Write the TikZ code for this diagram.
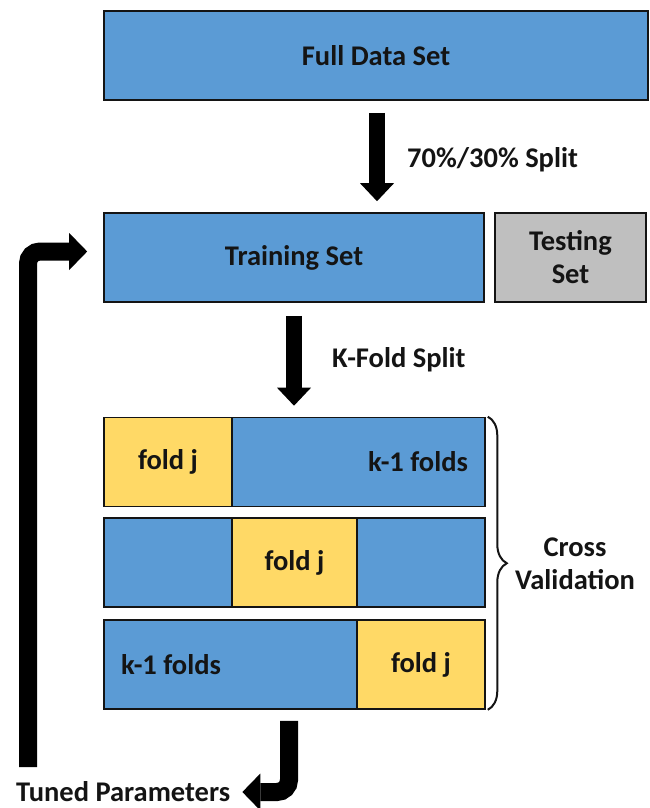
\documentclass[tikz,border=0pt]{standalone}
\usepackage{fontspec}
\setmainfont{Carlito}
\usetikzlibrary{arrows.meta,decorations.pathreplacing}
\definecolor{setblue}{HTML}{5B9BD5}
\definecolor{foldyellow}{HTML}{FFD966}
\definecolor{testgray}{HTML}{BFBFBF}
\definecolor{ink}{HTML}{141414}
\begin{document}
\begin{tikzpicture}[x=1pt,y=-1pt,
  txt/.style={font=\bfseries\fontsize{28.5}{33}\selectfont, text=ink, align=center, inner sep=0pt},
  block/.style={draw=ink, line width=1.6pt, inner sep=0pt, minimum height=89pt, txt},
  blueblock/.style={block, fill=setblue},
  yellowblock/.style={block, fill=foldyellow},
  grayblock/.style={block, fill=testgray},
  downarrow/.style={line width=16pt, -{Triangle[width=34pt,length=18pt,line width=0pt]}},
  bentarrow/.style={line width=18pt, rounded corners=12pt, -{Triangle[width=37pt,length=18pt,line width=0pt]}},
  brace/.style={decorate, decoration={brace, amplitude=19pt}, line width=2pt, draw=ink}]
\useasboundingbox (0,0) rectangle (649,808);

% data sets
\node[blueblock, minimum width=544pt] (full) at (376,55.5) {Full Data Set};
\node[blueblock, minimum width=380pt] (train) at (294,257.5) {Training Set};
\node[grayblock, minimum width=151pt] (test) at (570.5,257.5) {Testing\\Set};

% cross-validation folds
\node[yellowblock, minimum width=128pt] (r1a) at (168,462) {fold j};
\node[blueblock, minimum width=253pt] (r1b) at (358.5,462) {};
\node[txt] (r1t) at (418,462) {k-1 folds};

\node[blueblock, minimum width=128pt] (r2a) at (168,562.5) {};
\node[yellowblock, minimum width=125pt] (r2b) at (294.5,562.5) {fold j};
\node[blueblock, minimum width=128pt] (r2c) at (421,562.5) {};

\node[blueblock, minimum width=253pt] (r3a) at (230.5,664.5) {};
\node[txt] (r3t) at (171,664.5) {k-1 folds};
\node[yellowblock, minimum width=128pt] (r3b) at (421,664.5) {fold j};

% labels
\node[txt, anchor=west] (splitlbl) at (407,160) {70\%/30\% Split};
\node[txt, anchor=west] (kfoldlbl) at (332,360) {K-Fold Split};
\node[txt] (cvlbl) at (575,564) {Cross\\Validation};
\node[txt, anchor=west] (tuned) at (16,792) {Tuned Parameters};

% arrows
\draw[downarrow, shorten <=12pt, shorten >=11pt] ([xshift=1pt]full.south) -- ([xshift=1pt]full.south |- train.north);
\draw[downarrow, shorten <=13pt, shorten >=11pt] (train.south) -- (train.south |- r1b.north);
\draw[brace] ([xshift=2pt]r1b.north east) -- ([xshift=2pt]r3b.south east);

\coordinate (loopstart) at (28,767);
\draw[bentarrow, shorten >=16pt] (loopstart) |- ([yshift=6pt]train.west);
\draw[bentarrow, shorten <=11pt, shorten >=12pt] ([xshift=58.5pt]r3a.south) |- (tuned.east);
\end{tikzpicture}
\end{document}
